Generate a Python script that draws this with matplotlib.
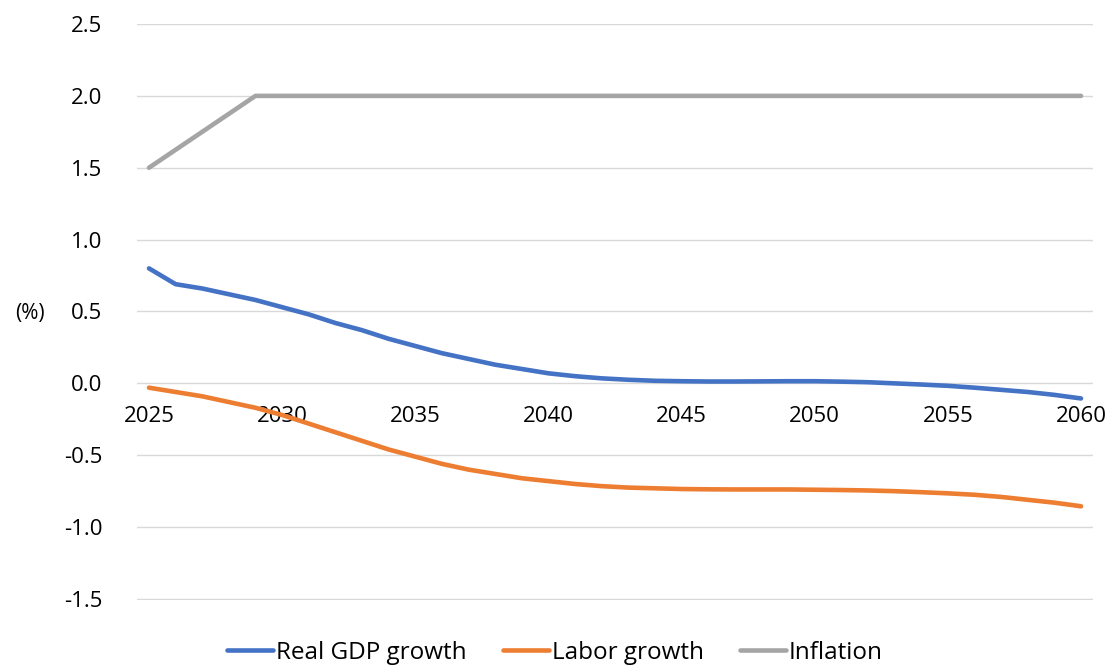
import matplotlib
matplotlib.use('Agg')
import matplotlib.pyplot as plt
import numpy as np

plt.rcParams['font.family'] = ['Open Sans', 'DejaVu Sans']

years = np.arange(2025, 2061)

# annual growth rates, in percent
real_gdp = [0.80, 0.69, 0.66, 0.62, 0.58, 0.53, 0.48, 0.42, 0.37, 0.31,
            0.26, 0.21, 0.17, 0.13, 0.10, 0.07, 0.05, 0.035, 0.025, 0.018,
            0.015, 0.013, 0.013, 0.014, 0.015, 0.015, 0.012, 0.008, 0.0, -0.008,
            -0.017, -0.03, -0.045, -0.06, -0.08, -0.105]
labor = [-0.03, -0.06, -0.09, -0.13, -0.17, -0.22, -0.28, -0.34, -0.40, -0.46,
         -0.51, -0.56, -0.60, -0.63, -0.66, -0.68, -0.70, -0.715, -0.725, -0.73,
         -0.735, -0.737, -0.738, -0.738, -0.738, -0.74, -0.742, -0.745, -0.75, -0.757,
         -0.765, -0.775, -0.79, -0.81, -0.83, -0.855]
inflation = [1.5, 1.625, 1.75, 1.875] + [2.0] * 32

series = [
    ('Real GDP growth', real_gdp, '#4472C4'),
    ('Labor growth', labor, '#ED7D31'),
    ('Inflation', inflation, '#A5A5A5'),
]

W, H = 1113, 667
fig = plt.figure(figsize=(W / 100, H / 100), dpi=100)
ax = fig.add_axes([137 / W, (H - 600) / H, (1093 - 137) / W, (600 - 24) / H])

for name, vals, col in series:
    ax.plot(years, vals, color=col, lw=3.3, label=name,
            solid_capstyle='round', solid_joinstyle='round')

ax.set_xlim(2024.55, 2060.45)
ax.set_ylim(-1.507, 2.5)
ticks = np.arange(-1.5, 2.51, 0.5)
ax.set_yticks(ticks)
ax.set_yticklabels([f'{v:.1f}' for v in ticks])
ax.set_xticks(np.arange(2025, 2061, 5))
ax.grid(axis='y', color='#D9D9D9', lw=1)
ax.set_axisbelow(True)

for s in ['top', 'right', 'left']:
    ax.spines[s].set_visible(False)
ax.spines['bottom'].set_position(('data', 0))
ax.spines['bottom'].set_visible(False)
ax.tick_params(axis='x', length=0, pad=16, labelsize=16)
ax.tick_params(axis='y', length=0, pad=25, labelsize=16)

fig.text(30 / W, 1 - 313 / H, '(%)', ha='center', va='center', fontsize=15)

fig.legend(loc='center', bbox_to_anchor=(555 / W, 1 - 653 / H), ncol=3,
           frameon=False, fontsize=17.5, handlelength=1.9, handletextpad=0.1,
           columnspacing=1.5)

fig.savefig('out.png', dpi=100)
